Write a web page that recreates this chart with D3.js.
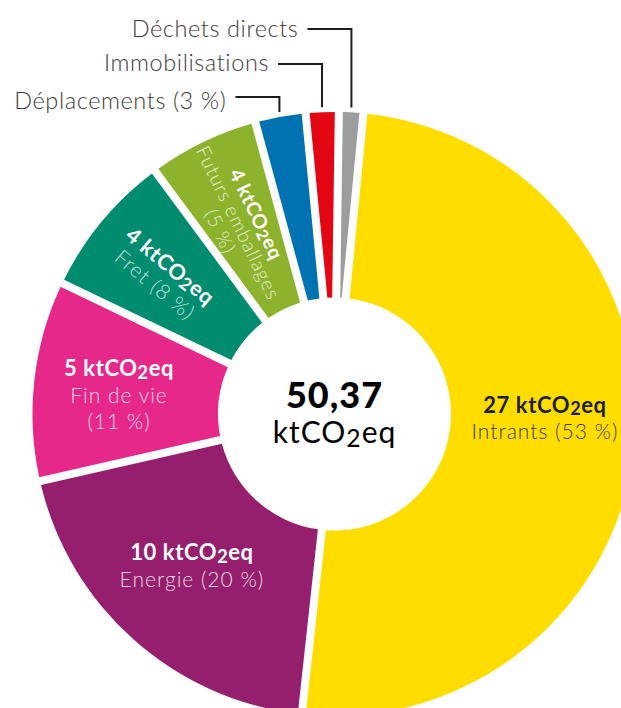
<!doctype html>
<html lang="fr">
  <head>
    <meta charset="utf-8">
    <title>Emissions</title>
    <script src="https://d3js.org/d3.v7.min.js"></script>
    <style>
      body { margin: 0; background: #fff; }
      svg { display: block; font-family: Lato, "Open Sans", sans-serif; }
    </style>
  </head>
  <body>
    <div id="chart"></div>
    <script>
    // slices, clockwise from the top
    const categories = ["Intrants", "Energie", "Fin de vie", "Fret", "Futurs emballages",
                        "Déplacements", "Immobilisations", "Déchets directs"];
    // share of the ring actually drawn (%)
    const shares = [50.2, 19.7, 10.7, 7.75, 5.9, 2.7, 1.75, 1.3];
    const amounts = ["27", "10", "5", "4", "4", null, null, null];
    const percents = ["53 %", "20 %", "11 %", "8 %", "5 %", "3 %", null, null];
    const colors = ["#FFDD00", "#951F6E", "#E6288A", "#008C6F", "#8DB22B",
                    "#0072B2", "#E30613", "#9D9D9C"];
    const total = "50,37";

    var width = 621,
        height = 708,
        cx = 334.5, cy = 414,
        rIn = 116.5, rOut = 302,
        gap = 8,
        start = 5.5 * Math.PI / 180;

    const svg = d3.select("#chart").append("svg")
        .attr("width", width)
        .attr("height", height);

    const g = svg.append("g")
        .attr("transform", "translate(" + cx + "," + cy + ")");

    const pie = d3.pie().sort(null).value(d => d)
        .startAngle(start).endAngle(start + 2 * Math.PI);

    const arc = d3.arc()
        .innerRadius(rIn).outerRadius(rOut)
        .padRadius(rOut).padAngle(gap / rOut);

    const arcs = pie(shares);

    g.selectAll("path.slice")
        .data(arcs)
        .enter().append("path")
        .attr("class", "slice")
        .attr("d", arc)
        .attr("fill", (d, i) => colors[i]);

    // writes "<prefix>ktCO2eq" with a lowered 2
    function co2(text, prefix, size) {
        text.append("tspan").text(prefix + "ktCO");
        text.append("tspan").text("2")
            .attr("font-size", size * 0.82)
            .attr("dy", size * 0.12);
        text.append("tspan").text("eq")
            .attr("dy", -size * 0.12);
    }

    // label blocks: polar position (deg clockwise from top, radius), rotated or not
    const labelPlace = [
        {a: 91.2, r: 210.5, rot: false, lh: 26.5, big: 22, small: 21, bold: "#1d1d1b", light: "#3c3c3b"},
        {a: 223.1, r: 208.7, rot: false, lh: 27, big: 22, small: 21, bold: "#fff", light: "rgba(255,255,255,0.82)"},
        {a: 275, r: 216.3, rot: false, lh: 26.5, big: 22, small: 21, bold: "#fff", light: "rgba(255,255,255,0.8)"},
        {a: 308.8, r: 220.8, rot: true, lh: 24, big: 21.5, small: 21, bold: "#fff", light: "rgba(255,255,255,0.75)"},
        {a: 333.2, r: 214, rot: true, lh: 20, big: 19.5, small: 19.5, bold: "#fff", light: "rgba(255,255,255,0.8)"}
    ];

    const labelLines = [
        ["Intrants (" + percents[0] + ")"],
        ["Energie (" + percents[1] + ")"],
        ["Fin de vie", "(" + percents[2] + ")"],
        ["Fret (" + percents[3] + ")"],
        ["Futurs emballages", "(" + percents[4] + ")"]
    ];

    labelPlace.forEach((p, i) => {
        const rad = p.a * Math.PI / 180;
        const x = p.r * Math.sin(rad),
              y = -p.r * Math.cos(rad);
        const rot = p.rot ? (arcs[i].startAngle + arcs[i].endAngle) / 2 * 180 / Math.PI - 270 : 0;
        const block = g.append("g")
            .attr("transform", "translate(" + x + "," + y + ") rotate(" + rot + ")")
            .attr("text-anchor", "middle");
        const n = labelLines[i].length + 1;
        const off = k => (k - (n - 1) / 2) * p.lh + p.big * 0.34;

        const t = block.append("text")
            .attr("y", off(0))
            .attr("font-size", p.big)
            .attr("font-weight", 700)
            .attr("letter-spacing", 0.6)
            .attr("fill", p.bold);
        co2(t, amounts[i] + " ", p.big);

        labelLines[i].forEach((line, k) => {
            block.append("text")
                .attr("y", off(k + 1))
                .attr("font-size", p.small)
                .attr("font-weight", 300)
                .attr("letter-spacing", 1)
                .attr("fill", p.light)
                .text(line);
        });
    });

    // callouts for the thin slices at the top
    const callouts = [
        {i: 5, text: "Déplacements (" + percents[5] + ")", lineY: 97, baseY: 109},
        {i: 6, text: "Immobilisations", lineY: 64, baseY: 71},
        {i: 7, text: "Déchets directs", lineY: 29, baseY: 37}
    ];

    callouts.forEach(c => {
        const d = arcs[c.i];
        const mid = (d.startAngle + d.endAngle) / 2;
        const vx = (rOut + 5) * Math.sin(mid);
        const vy = -(rOut + 5) * Math.cos(mid);
        const ly = c.lineY - cy;
        g.append("path")
            .attr("d", d3.line()([[vx - 44, ly], [vx, ly], [vx, vy]]))
            .attr("fill", "none")
            .attr("stroke", "#1d1d1b")
            .attr("stroke-width", 2);
        g.append("text")
            .attr("x", vx - 53)
            .attr("y", c.baseY - cy)
            .attr("text-anchor", "end")
            .attr("font-size", 23.5)
            .attr("font-weight", 300)
            .attr("letter-spacing", 0.6)
            .attr("fill", "#3c3c3b")
            .text(c.text);
    });

    // total in the hole
    g.append("text")
        .attr("y", -6)
        .attr("text-anchor", "middle")
        .attr("font-size", 36)
        .attr("font-weight", 900)
        .attr("letter-spacing", 1)
        .attr("fill", "#000")
        .text(total);

    const unit = g.append("text")
        .attr("y", 29)
        .attr("text-anchor", "middle")
        .attr("font-size", 30)
        .attr("font-weight", 400)
        .attr("letter-spacing", 1)
        .attr("fill", "#000");
    co2(unit, "", 30);
    </script>
  </body>
</html>
